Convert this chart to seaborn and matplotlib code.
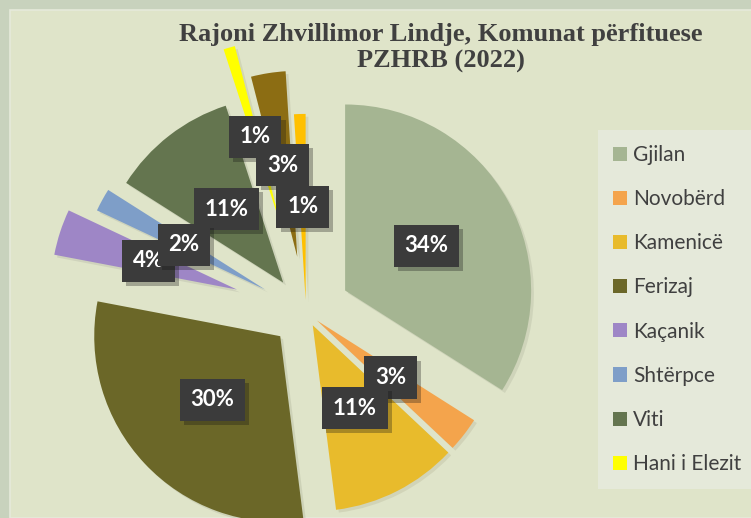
import matplotlib
matplotlib.use("Agg")
import matplotlib.pyplot as plt
import matplotlib.patheffects as pe
from matplotlib.patches import Rectangle, Patch
import seaborn as sns

# Data (shares in %)
municipalities = ["Gjilan", "Novobërd", "Kamenicë", "Ferizaj", "Kaçanik",
                  "Shtërpce", "Viti", "Hani i Elezit", "Kllokot", "Ranillug"]
shares = [34, 3, 11, 30, 4, 2, 11, 1, 3, 1]
explode = [0.24, 0.075, 0.08, 0.19, 0.39, 0.25, 0.20, 0.48, 0.30, 0.065]
colors = ["#a5b592", "#f4a44c", "#e8bb2c", "#6b6728", "#9e86c6",
          "#7e9ec8", "#64754f", "#ffff00", "#8c6d13", "#ffc000"]
legend_count = 8  # the reference legend only shows the first 8 entries

sns.set_theme(style="white")
plt.rcParams["font.family"] = ["Lato", "DejaVu Sans"]

W, H, DPI = 751, 518, 100
fig = plt.figure(figsize=(W / DPI, H / DPI), dpi=DPI)
fig.patch.set_facecolor("#c8d2bd")
fig.patches.append(Rectangle((10 / W, 0), 1, 1 - 10 / H, transform=fig.transFigure,
                             facecolor="#dfe4c9", edgecolor="#e6eadb", lw=1.2, zorder=-5))

# pie centre / radius in pixels
cx, cy, R = 306, 312, 186
ax = fig.add_axes([0, 0, 1, 1])
ax.patch.set_alpha(0)
ax.set_zorder(1)

wedges, texts, autotexts = ax.pie(
    shares, explode=explode, colors=colors, startangle=90, counterclock=False,
    radius=1, autopct="%1.0f%%", pctdistance=0.5,
    textprops=dict(color="white", fontsize=16, fontweight="bold"),
    wedgeprops=dict(linewidth=0),
)
for w in wedges:
    w.set_path_effects([pe.SimplePatchShadow(offset=(2, -2), alpha=0.09), pe.Normal()])

for i, t in enumerate(autotexts):
    t.set_bbox(dict(boxstyle="square,pad=0.48", facecolor="#3b3b3b", edgecolor="none"))
    t.get_bbox_patch().set_path_effects([pe.SimplePatchShadow(offset=(3, -3), alpha=0.3),
                                         pe.Normal()])
    t.set_zorder(5 + i)
autotexts[5].set_zorder(30)

ax.set_xlim(-cx / R, (W - cx) / R)
ax.set_ylim(-(H - cy) / R, cy / R)
ax.set_aspect("auto")
ax.axis("off")

fig.text(441 / W, 1 - 48 / H, "Rajoni Zhvillimor Lindje, Komunat përfituese\nPZHRB (2022)",
         ha="center", va="center", fontsize=19, fontweight="bold", color="#404040",
         family="Liberation Serif", linespacing=1.22, zorder=10)

handles = [Patch(facecolor=colors[i], edgecolor="none") for i in range(legend_count)]
leg = fig.legend(handles, municipalities[:legend_count], loc="upper left",
                 bbox_to_anchor=(598 / W, 1 - 130 / H), frameon=True, fancybox=False,
                 facecolor="#e5e9da", edgecolor="none", framealpha=1,
                 fontsize=15, labelcolor="#404040", handlelength=0.67, handleheight=0.67,
                 handletextpad=0.3, labelspacing=1.16, borderpad=0.72, borderaxespad=0)
leg.set_zorder(10)

fig.savefig("out.png", dpi=DPI, facecolor=fig.get_facecolor())
